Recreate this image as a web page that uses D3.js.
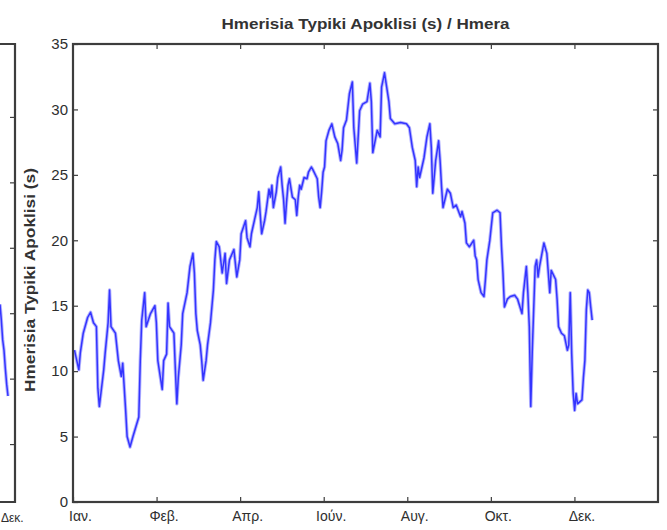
<!DOCTYPE html>
<html>
<head>
<meta charset="utf-8">
<script src="https://cdn.jsdelivr.net/npm/d3@7/dist/d3.min.js"></script>
<style>
  html, body { margin: 0; padding: 0; background: #fff; }
  svg { display: block; }
  text { font-family: Arial, "Liberation Sans", Helvetica, sans-serif; }
</style>
</head>
<body>
<svg id="chart" width="667" height="530"></svg>
<script>
// Daily standard deviation (s) over the year
const days = [1,4,5,7,10,12,14,16,17,18,21,22,24,25,26,29,31,33,34,36,37,39,41,45,46,47,49,50,53,56,57,58,61,62,64,65,66,69,70,71,72,74,75,78,80,82,83,84,85,87,88,89,91,92,94,96,97,98,100,102,104,105,107,110,112,114,115,118,119,121,122,124,126,127,128,129,131,132,134,135,136,137,139,140,142,143,144,145,146,147,148,150,152,153,154,155,156,158,160,161,163,164,167,168,169,170,171,172,173,175,177,179,181,183,184,185,187,189,191,192,194,196,198,201,203,204,205,208,210,211,213,216,217,220,224,228,230,232,234,235,236,237,240,242,244,245,246,248,250,251,252,253,256,258,260,262,265,266,268,269,271,274,275,276,277,279,281,282,283,285,287,290,292,293,294,295,297,299,302,304,307,308,310,311,312,313,314,316,317,318,319,322,324,325,326,327,330,331,332,334,336,338,339,340,341,342,343,344,345,348,349,350,351,352,353,354,355];
const stdDev = [11.6,10.1,11.4,12.9,14.1,14.5,13.7,13.4,8.7,7.3,10.1,11.4,13.7,16.2,13.4,12.9,10.8,9.6,10.6,7.0,5.0,4.2,5.0,6.5,10.8,13.9,16.0,13.4,14.4,15.0,13.7,10.8,8.6,10.8,11.3,15.2,13.4,12.9,10.1,7.5,9.5,12.0,14.4,16.0,18.0,19.0,17.5,14.4,13.1,12.0,10.8,9.3,10.8,12.0,13.7,16.2,18.5,19.9,19.5,17.5,19.0,16.7,18.5,19.3,17.2,18.5,20.5,21.5,20.2,19.5,20.5,21.5,22.5,23.7,22.0,20.5,21.5,22.2,23.9,23.3,24.2,22.5,23.7,24.8,25.6,24.2,23.1,21.3,22.9,24.2,24.7,23.3,23.1,21.9,23.3,24.2,23.9,24.8,24.7,25.2,25.6,25.4,24.7,23.3,22.5,23.7,25.2,25.6,27.6,28.4,28.9,27.9,27.4,26.1,26.9,28.6,29.2,31.2,32.1,28.6,25.9,29.9,30.4,30.6,32.0,30.6,26.7,28.4,27.9,31.7,32.8,30.6,29.3,28.9,29.0,28.9,28.6,27.1,26.1,24.1,25.6,24.8,26.3,27.9,28.9,27.1,23.6,26.1,27.6,26.1,24.1,22.5,23.9,23.6,22.5,22.7,21.8,22.2,21.3,19.8,19.5,20.0,18.8,18.5,17.0,16.0,15.7,17.0,18.5,20.0,22.1,22.3,22.1,19.5,17.5,14.9,15.5,15.7,15.8,15.5,14.4,16.0,18.0,16.0,13.4,7.3,11.4,18.0,18.5,17.2,18.0,19.8,19.0,17.5,16.0,17.7,17.0,15.5,13.4,12.9,12.7,11.6,12.0,16.0,11.3,8.3,7.0,8.3,7.5,7.8,9.5,10.8,14.7,16.2,16.0,14.9,13.9];

const xTickValues = [0, 400/7, 800/7, 1200/7, 1600/7, 2000/7, 2400/7];
const xTickLabels = ["Ιαν.", "Φεβ.", "Απρ.", "Ιούν.", "Αυγ.", "Οκτ.", "Δεκ."];
const yTickValues = [0, 5, 10, 15, 20, 25, 30, 35];

// Tail end of the neighbouring panel on the left
const prevDays = [0, 1, 2, 3, 4, 5, 6];
const prevValues = [15.1, 13.9, 12.4, 11.6, 10.2, 9.0, 8.1];
const prevTickValues = [5, 10, 15, 20, 25, 30];
const prevLastLabel = "Δεκ.";

const titleText = "Hmerisia Typiki Apoklisi (s) / Hmera";
const yLabelText = "Hmerisia Typiki Apoklisi (s)";

const svg = d3.select("#chart");
const axisColor = "#3d3d3d";
const textColor = "#2e2e2e";
const lineColor = "#3434ff";

// ---- main panel ----
const plotL = 73, plotR = 658, plotT = 44, plotB = 502;
const x = d3.scaleLinear().domain([0, 400]).range([plotL, plotR]);
const y = d3.scaleLinear().domain([0, 35]).range([plotB, plotT]);

const g = svg.append("g");

// halo under the series line
const line = d3.line().x((d, i) => x(days[i])).y(d => y(d));
g.append("path")
  .datum(stdDev)
  .attr("d", line)
  .attr("fill", "none")
  .attr("stroke", "#b4b4ff")
  .attr("stroke-width", 3.4)
  .attr("stroke-linejoin", "round");
g.append("path")
  .datum(stdDev)
  .attr("d", line)
  .attr("fill", "none")
  .attr("stroke", lineColor)
  .attr("stroke-width", 1.5)
  .attr("stroke-linejoin", "round");

// axes with inward ticks
const yAxisL = d3.axisLeft(y).tickValues(yTickValues).tickSizeInner(-5).tickSizeOuter(0).tickPadding(5);
const yAxisR = d3.axisRight(y).tickValues(yTickValues.slice(1, -1)).tickSizeInner(-5).tickSizeOuter(0).tickFormat("");
const xAxisB = d3.axisBottom(x).tickValues(xTickValues).tickSizeInner(-5).tickSizeOuter(0).tickPadding(9)
  .tickFormat((d, i) => xTickLabels[i]);
const xAxisT = d3.axisTop(x).tickValues(xTickValues.slice(1)).tickSizeInner(-5).tickSizeOuter(0).tickFormat("");

function styleAxis(sel) {
  sel.select(".domain").remove();
  sel.selectAll(".tick line").attr("stroke", axisColor).attr("stroke-width", 1.2);
  sel.selectAll(".tick text").attr("fill", textColor).attr("font-size", 15);
}

g.append("g").attr("transform", `translate(${plotL},0)`).call(yAxisL).call(styleAxis);
g.append("g").attr("transform", `translate(${plotR},0)`).call(yAxisR).call(styleAxis);
const xb = g.append("g").attr("transform", `translate(0,${plotB})`).call(xAxisB).call(styleAxis);
xb.selectAll(".tick text").attr("dx", 7).attr("font-size", 14);
g.append("g").attr("transform", `translate(0,${plotT})`).call(xAxisT).call(styleAxis);

// box
g.append("rect")
  .attr("x", plotL).attr("y", plotT)
  .attr("width", plotR - plotL).attr("height", plotB - plotT)
  .attr("fill", "none").attr("stroke", axisColor).attr("stroke-width", 2.2);

// title
svg.append("text")
  .attr("x", (plotL + plotR) / 2).attr("y", 29)
  .attr("text-anchor", "middle")
  .attr("font-size", 15).attr("font-weight", "bold")
  .attr("fill", "#333")
  .attr("textLength", 288).attr("lengthAdjust", "spacingAndGlyphs")
  .text(titleText);

// ---- neighbouring panel (right edge only) ----
const pRight = 15;
const px = d3.scaleLinear().domain([0, 6]).range([0, 8]);
const py = d3.scaleLinear().domain([0, 35]).range([plotB, plotT]);
const pg = svg.append("g");
const pline = d3.line().x((d, i) => px(prevDays[i])).y(d => py(d));
pg.append("path").datum(prevValues).attr("d", pline)
  .attr("fill", "none").attr("stroke", "#b4b4ff").attr("stroke-width", 3.4);
pg.append("path").datum(prevValues).attr("d", pline)
  .attr("fill", "none").attr("stroke", lineColor).attr("stroke-width", 1.5);
pg.selectAll("line.ptick").data(prevTickValues).join("line")
  .attr("class", "ptick")
  .attr("x1", pRight).attr("x2", pRight - 5)
  .attr("y1", d => py(d) + 8).attr("y2", d => py(d) + 8)
  .attr("stroke", axisColor).attr("stroke-width", 1.2);
pg.append("path")
  .attr("d", `M0,${plotT}H${pRight}V${plotB}H0`)
  .attr("fill", "none").attr("stroke", axisColor).attr("stroke-width", 2.2);
pg.append("text")
  .attr("x", 1).attr("y", 522)
  .attr("text-anchor", "start")
  .attr("font-size", 12).attr("fill", textColor)
  .text(prevLastLabel);

// y-axis label of the main panel
svg.append("text")
  .attr("transform", `translate(35,280) rotate(-90)`)
  .attr("text-anchor", "middle")
  .attr("font-size", 15).attr("font-weight", "bold")
  .attr("fill", "#333")
  .attr("textLength", 224).attr("lengthAdjust", "spacingAndGlyphs")
  .text(yLabelText);
</script>
</body>
</html>
